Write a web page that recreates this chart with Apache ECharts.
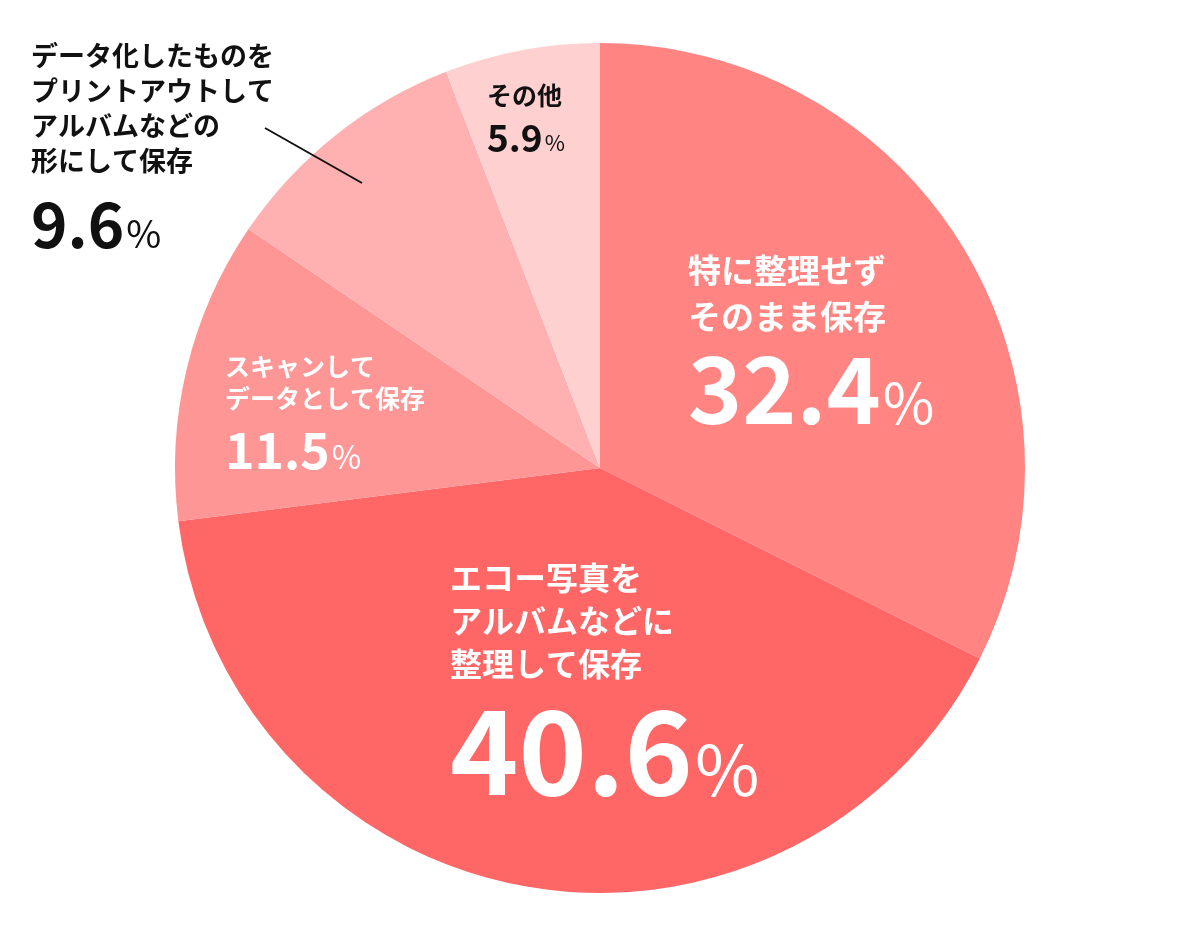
<!DOCTYPE html>
<html><head><meta charset="utf-8">
<script src="https://cdn.jsdelivr.net/npm/echarts@6/dist/echarts.min.js"></script>
<style>html,body{margin:0;padding:0;background:#fff;}#c{width:1200px;height:939px;}</style>
</head><body><div id="c"></div>
<script>
const categories = ['特に整理せず\nそのまま保存', 'エコー写真を\nアルバムなどに\n整理して保存', 'スキャンして\nデータとして保存', 'データ化したものを\nプリントアウトして\nアルバムなどの\n形にして保存', 'その他'];
const values = [32.4, 40.6, 11.5, 9.6, 5.9];
const colors = ['#FF8482', '#FF6666', '#FF9696', '#FFB1B1', '#FFD0D0'];

// label layout (styles only)
const labelCfg = [
  {x: 688, y: 247, ns: 33, nlh: 46, vs: 92, vlh: 96, ps: 56, color: '#fff'},
  {x: 450, y: 556, ns: 32, nlh: 43, vs: 116, vlh: 124, ps: 70, color: '#fff'},
  {x: 225, y: 350, ns: 25, nlh: 32, vs: 50, vlh: 61, ps: 32, color: '#fff'},
  {x: 31, y: 38, ns: 27, nlh: 35, vs: 62, vlh: 77, ps: 38, color: '#111'},
  {x: 487, y: 80, ns: 25, nlh: 30, vs: 37, vlh: 46, ps: 22, color: '#111'}
];
const FONT = '"Noto Sans CJK JP", "Noto Sans", sans-serif';

const data = values.map((v, i) => {
  const c = labelCfg[i];
  return {
    value: v,
    name: categories[i],
    itemStyle: {color: colors[i]},
    label: {
      color: c.color,
      rich: {
        n: {fontSize: c.ns, lineHeight: c.nlh, fontWeight: 'bold', color: c.color, fontFamily: FONT},
        v: {fontSize: c.vs, lineHeight: c.vlh, fontWeight: 'bold', color: c.color, fontFamily: FONT, verticalAlign: 'bottom'},
        p: {fontSize: c.ps, lineHeight: c.vlh, fontWeight: 'normal', color: c.color, fontFamily: FONT, verticalAlign: 'bottom', padding: [0, 0, Math.round((c.vs - c.ps) * 0.1), 2]}
      }
    }
  };
});

const chart = echarts.init(document.getElementById('c'));
chart.setOption({
  animation: false,
  series: [{
    type: 'pie',
    center: [600, 468],
    radius: [0, 425],
    startAngle: 90,
    clockwise: true,
    silent: true,
    data: data,
    itemStyle: {borderWidth: 0},
    label: {
      show: true,
      position: 'inside',
      fontFamily: FONT,
      formatter: function (p) {
        const lines = p.name.split('\n').map(s => '{n|' + s + '}');
        return lines.join('\n') + '\n{v|' + p.value.toFixed(1) + '}{p|%}';
      }
    },
    labelLine: {show: false},
    labelLayout: function (params) {
      const c = labelCfg[params.dataIndex];
      return {x: c.x, y: c.y, align: 'left', verticalAlign: 'top'};
    }
  }],
  graphic: [{
    type: 'line',
    z: 100,
    shape: {x1: 265, y1: 128, x2: 362, y2: 183},
    style: {stroke: '#111', lineWidth: 2}
  }]
});
</script></body></html>
